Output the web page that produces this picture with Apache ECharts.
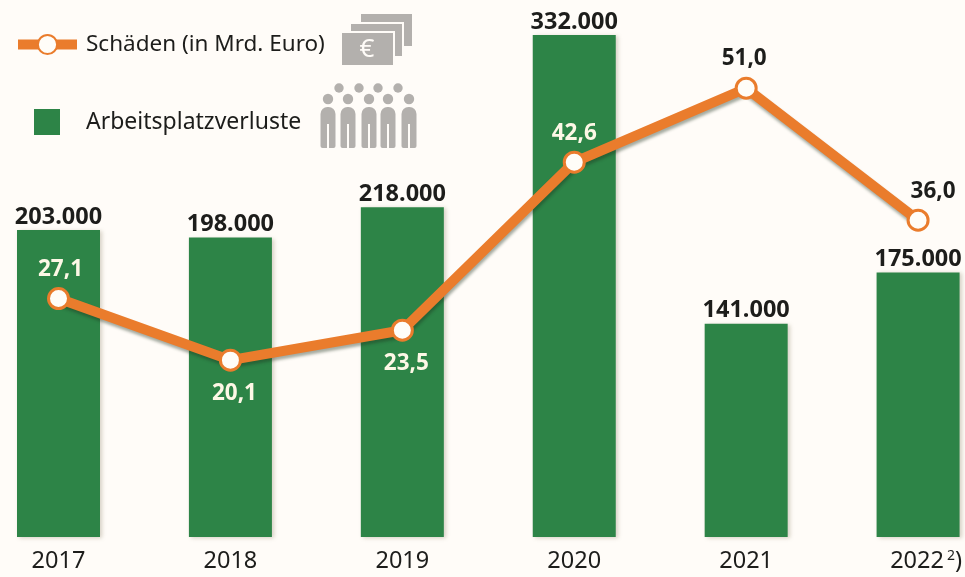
<!DOCTYPE html>
<html>
<head>
<meta charset="utf-8">
<title>Schäden und Arbeitsplatzverluste</title>
<script src="https://cdn.jsdelivr.net/npm/echarts@6/dist/echarts.min.js"></script>
<style>
  html, body { margin: 0; padding: 0; background: #fffcf8; }
  #chart { width: 965px; height: 577px; }
</style>
</head>
<body>
<div id="chart"></div>
<script>
const years = ["2017", "2018", "2019", "2020", "2021", "2022"];
const jobLosses = [203000, 198000, 218000, 332000, 141000, 175000];
const damages = [27.1, 20.1, 23.5, 42.6, 51.0, 36.0];
const damageLabelPos = ["top", "bottom", "bottom", "top", "top", "top"];
const damageLabelGap = [6, 10, 10, 6, 7, 6];
const damageLabelShift = [2, 4, 4, 0, -2, 15];
const damageLabelColor = ["#fdf8e6", "#fdf8e6", "#fdf8e6", "#fdf8e6", "#1d1d1b", "#1d1d1b"];

const FONT = "'Noto Sans', sans-serif";
const GREEN = "#2d8447";
const ORANGE = "#ea7c2c";
const GREY = "#b3b0ad";

const chart = echarts.init(document.getElementById("chart"));

// icons next to the legend
const icons = [];
[[360, 13], [350, 23], [341, 32]].forEach(p => {
  icons.push({
    type: "rect",
    shape: { x: p[0], y: p[1], width: 53, height: 34 },
    style: { fill: GREY, stroke: "#fffcf8", lineWidth: 2 }
  });
});
icons.push({
  type: "text",
  style: { x: 367, y: 50, text: "€", fill: "#fffcf8", font: "26px " + FONT, align: "center", verticalAlign: "middle" }
});
[339, 359, 378, 398].forEach(x => {
  icons.push({ type: "circle", shape: { cx: x, cy: 88, r: 4.7 }, style: { fill: GREY } });
});
[328, 348, 369, 388, 409].forEach(x => {
  icons.push({ type: "circle", shape: { cx: x, cy: 99, r: 5.2 }, style: { fill: GREY } });
  icons.push({
    type: "rect",
    shape: { x: x - 7.5, y: 107, width: 15, height: 41, r: [7, 7, 2, 2] },
    style: { fill: GREY }
  });
  icons.push({
    type: "rect",
    shape: { x: x - 1, y: 124, width: 2, height: 24 },
    style: { fill: "#fffcf8" }
  });
});

chart.setOption({
  backgroundColor: "#fffcf8",
  animation: false,
  textStyle: { fontFamily: FONT },
  legend: [
    {
      data: ["Schäden (in Mrd. Euro)"],
      left: 13,
      top: 33,
      padding: 0,
      itemWidth: 59,
      itemHeight: 24,
      lineStyle: { width: 10, shadowBlur: 0, shadowOffsetX: 0, shadowOffsetY: 0 },
      textStyle: { fontSize: 22.5, color: "#1d1d1b", fontFamily: FONT, padding: [0, 0, 0, 4] }
    },
    {
      data: [{ name: "Arbeitsplatzverluste", icon: "rect" }],
      left: 34,
      top: 109,
      padding: 0,
      itemWidth: 26,
      itemHeight: 26,
      textStyle: { fontSize: 23, color: "#1d1d1b", fontFamily: FONT, padding: [0, 0, 0, 21] }
    }
  ],
  grid: { left: 58.5, right: 46.5, top: 35, bottom: 40 },
  xAxis: {
    type: "category",
    data: years,
    boundaryGap: false,
    axisLine: { show: false },
    axisTick: { show: false },
    axisLabel: {
      interval: 0,
      margin: 12,
      fontSize: 23.5,
      color: "#1d1d1b",
      fontFamily: FONT,
      formatter: v => v === "2022" ? "{pad|}{y|2022}{s|2}{y|)}" : v,
      rich: {
        pad: { width: 16 },
        y: { fontSize: 23.5, color: "#1d1d1b", fontFamily: FONT },
        s: { fontSize: 14, color: "#1d1d1b", fontFamily: FONT, verticalAlign: "top", padding: [0, 0, 8, 3] }
      }
    }
  },
  yAxis: [
    { type: "value", min: 0, max: 332000, show: false },
    { type: "value", min: 0, max: 57.05, show: false }
  ],
  series: [
    {
      name: "Arbeitsplatzverluste",
      type: "bar",
      data: jobLosses,
      barWidth: 83,
      clip: false,
      itemStyle: {
        color: GREEN,
        shadowColor: "rgba(120,110,80,0.3)",
        shadowBlur: 4,
        shadowOffsetX: 2,
        shadowOffsetY: 1
      },
      label: {
        show: true,
        position: "top",
        distance: 1,
        fontSize: 23.5,
        fontWeight: "bold",
        color: "#1d1d1b",
        fontFamily: FONT,
        formatter: p => String(p.value).replace(/(\d{3})$/, ".$1")
      }
    },
    {
      name: "Schäden (in Mrd. Euro)",
      type: "line",
      yAxisIndex: 1,
      clip: false,
      data: damages.map((v, i) => ({
        value: v,
        label: {
          position: damageLabelPos[i],
          distance: damageLabelGap[i],
          offset: [damageLabelShift[i], 0],
          color: damageLabelColor[i]
        }
      })),
      symbol: "circle",
      symbolSize: 20,
      itemStyle: { color: "#fffdf8", borderColor: ORANGE, borderWidth: 3 },
      lineStyle: {
        color: ORANGE,
        width: 10,
        shadowColor: "rgba(30,50,30,0.4)",
        shadowBlur: 3,
        shadowOffsetX: 1,
        shadowOffsetY: 3
      },
      label: {
        show: true,
        fontSize: 22.5,
        fontWeight: "bold",
        fontFamily: FONT,
        formatter: p => p.value.toFixed(1).replace(".", ",")
      }
    }
  ],
  graphic: icons
});
</script>
</body>
</html>
